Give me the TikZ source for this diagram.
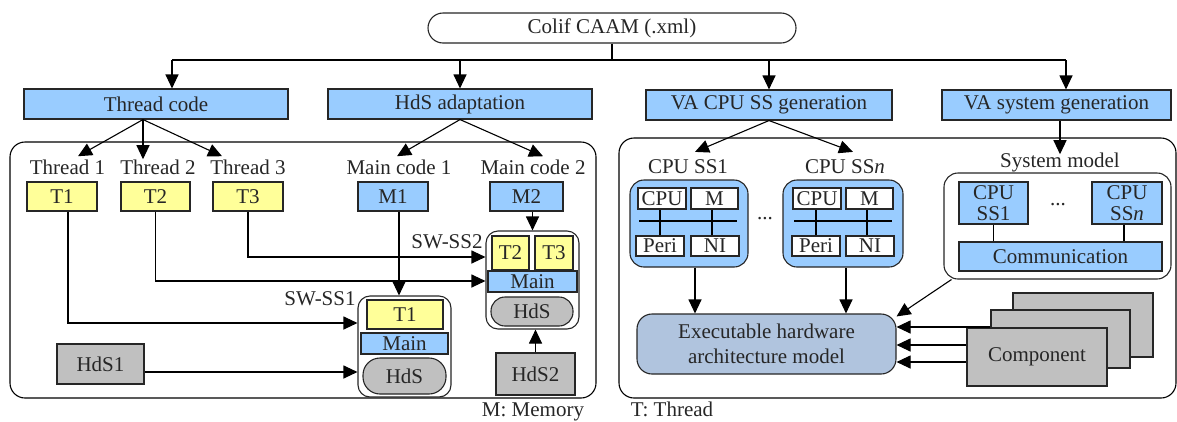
\documentclass[tikz,border=0pt]{standalone}
\usepackage{fontspec}
\setmainfont{Liberation Serif}
\usetikzlibrary{arrows.meta}
\definecolor{boxblue}{HTML}{99CCFF}
\definecolor{boxyellow}{HTML}{FFFF99}
\definecolor{boxgray}{HTML}{C0C0C0}
\definecolor{hwblue}{HTML}{B0C4DE}
\definecolor{ink}{HTML}{262626}

\begin{document}
\begin{tikzpicture}[x=1pt,y=-1pt,
  every node/.style={font=\fontsize{21}{23}\selectfont, text=ink},
  lbl/.style={inner sep=0pt, anchor=base},
  sz/.style 2 args={minimum width=#1pt, minimum height=#2pt},
  blk/.style={draw=ink, line width=1.1pt, inner sep=0pt},
  bluebox/.style={blk, fill=boxblue},
  yelbox/.style={blk, fill=boxyellow},
  graybox/.style={blk, fill=boxgray},
  whitebox/.style={blk, fill=white},
  ln/.style={draw=black, line width=1.1pt},
  arr/.style={draw=black, line width=1.1pt, -{Triangle[length=14pt,width=13pt]}},
  panel/.style={draw=black, line width=1.1pt, rounded corners=15pt}
]
\useasboundingbox (0,0) rectangle (1177,421);

% ---------- top row ----------
\node[whitebox, sz={368}{30}, rounded corners=15pt] (colif) at (612,28) {Colif CAAM (.xml)};
\node[bluebox, sz={264}{30}] (tcode) at (156,104) {Thread code};
\node[bluebox, sz={264}{30}] (hdsad) at (460,104) {HdS adaptation};
\node[bluebox, sz={246}{30}] (vacpu) at (769,105) {VA CPU SS generation};
\node[bluebox, sz={229}{30}] (vasys) at (1056.5,105) {VA system generation};

\coordinate (busL) at (172,60);
\coordinate (busR) at (1066,60);
\draw[ln] (colif.south) -- (colif.south |- busL);
\draw[ln] (busL) -- (busR);
\draw[arr] (busL) -- (busL |- tcode.north);
\draw[arr] (hdsad.north |- busL) -- (hdsad.north);
\draw[arr] (vacpu.north |- busL) -- (vacpu.north);
\draw[arr] (busR) -- (busR |- vasys.north);

% ---------- panels ----------
\draw[panel] (10,142) rectangle (596,398);
\draw[panel] (619,138) rectangle (1176,398);

% ---------- software side ----------
\node[lbl] (lt1) at (67.5,174) {Thread 1};
\node[lbl] (lt2) at (158,174) {Thread 2};
\node[lbl] (lt3) at (248,174) {Thread 3};
\node[lbl] (lm1) at (399,174) {Main code 1};
\node[lbl] (lm2) at (533,174) {Main code 2};

\draw[arr] ([xshift=-13pt]tcode.south) -- ([xshift=10.5pt,yshift=3pt]lt1.north);
\draw[arr] ([xshift=-13pt]tcode.south) -- ([xshift=-15pt]lt2.north);
\draw[arr] ([xshift=-13pt]tcode.south) -- ([xshift=-26pt,yshift=3pt]lt3.north);
\draw[arr] (hdsad.south) -- ([xshift=-2pt,yshift=3pt]lm1.north);
\draw[arr] (hdsad.south) -- ([xshift=10pt,yshift=3pt]lm2.north);

\node[yelbox, sz={70}{29}] (t1) at (62,196.5) {T1};
\node[yelbox, sz={69}{29}] (t2) at (155.5,196.5) {T2};
\node[yelbox, sz={70}{29}] (t3) at (248,196.5) {T3};
\node[bluebox, sz={70}{29}] (m1) at (393,196.5) {M1};
\node[bluebox, sz={73}{29}] (m2) at (526.5,196.5) {M2};

% SW-SS1
\node[whitebox, sz={93}{101}, rounded corners=12pt] (sw1) at (404.5,346.5) {};
\node[yelbox, sz={76}{29}] (sw1t) at (405,314.5) {T1};
\node[bluebox, sz={87}{21}] (sw1m) at (404.5,343.5) {Main};
\node[graybox, sz={83}{36}, rounded corners=17pt] (sw1h) at (404.5,376) {HdS};
\node[lbl] (lsw1) at (320,305) {SW-SS1};

% SW-SS2
\node[whitebox, sz={93}{98}, rounded corners=12pt] (sw2) at (532.5,280) {};
\node[yelbox, sz={37}{34}] (sw2a) at (510.5,253) {T2};
\node[yelbox, sz={38}{34}] (sw2b) at (554,253) {T3};
\node[bluebox, sz={89}{21}] (sw2m) at (532.5,281.5) {Main};
\node[graybox, sz={82}{29}, rounded corners=14pt] (sw2h) at (532,311.5) {HdS};
\node[lbl] (lsw2) at (447,248) {SW-SS2};

\node[graybox, sz={79}{42}] (hds2) at (535.5,374) {HdS2};
\node[graybox, sz={87}{40}] (hds1) at (100.5,364) {HdS1};

\draw[arr] ([xshift=6pt]t1.south) |- ([yshift=23.5pt]sw1.west);
\draw[arr] (t2.south) |- ([yshift=-1pt]sw2.west);
\draw[arr] (t3.south) |- ([yshift=23pt]sw2.west);
\draw[arr] ([xshift=6pt]m1.south) -- ([xshift=6pt]m1.south |- sw1.north);
\draw[arr] (m2.south -| sw2.north) -- (sw2.north);
\draw[arr] (hds2.north) -- (hds2.north |- sw2.south);
\draw[arr] ([yshift=-8pt]hds1.east) -- ([yshift=-8pt]hds1.east -| sw1.west);

% ---------- hardware side ----------
\node[lbl] (lc1) at (688,173) {CPU SS1};
\node[lbl] (lcn) at (845,173) {CPU SS\textit{n}};
\draw[arr] (vacpu.south) -- ([xshift=7pt,yshift=7pt]lc1.north);
\draw[arr] (vacpu.south) -- ([xshift=8pt,yshift=7pt]lcn.north);

% CPU subsystem 1
\node[bluebox, sz={118}{87}, rounded corners=14pt] (cpu1) at (689,223.5) {};
\node[whitebox, sz={48}{21}] (cpu1c) at (662,198.5) {CPU};
\node[whitebox, sz={47}{21}] (cpu1m) at (714.5,198.5) {M};
\node[whitebox, sz={48}{20}] (cpu1p) at (660,246) {Peri};
\node[whitebox, sz={48}{20}] (cpu1n) at (715,246) {NI};
\draw[ln] ([xshift=10pt,yshift=2.5pt]cpu1.west) -- ([xshift=-12pt,yshift=2.5pt]cpu1.east);
\draw[ln] (cpu1p.north) -- (cpu1p.north |- cpu1c.south);
\draw[ln] ([xshift=-2.5pt]cpu1m.south) -- ([xshift=-2.5pt]cpu1m.south |- cpu1n.north);

% CPU subsystem n
\node[bluebox, sz={120}{87}, rounded corners=14pt] (cpun) at (843,223.5) {};
\node[whitebox, sz={48}{21}] (cpunc) at (817,198.5) {CPU};
\node[whitebox, sz={47}{21}] (cpunm) at (869.5,198.5) {M};
\node[whitebox, sz={48}{20}] (cpunp) at (816,246) {Peri};
\node[whitebox, sz={48}{20}] (cpunn) at (870,246) {NI};
\draw[ln] ([xshift=12pt,yshift=2.5pt]cpun.west) -- ([xshift=-12pt,yshift=2.5pt]cpun.east);
\draw[ln] (cpunp.north) -- (cpunp.north |- cpunc.south);
\draw[ln] ([xshift=-2.5pt]cpunm.south) -- ([xshift=-2.5pt]cpunm.south |- cpunn.north);

\node[lbl] (hdots) at (765,219) {...};

% executable model
\node[blk, fill=hwblue, sz={259}{60}, rounded corners=15pt, align=center,
      font=\fontsize{21}{25}\selectfont] (exec) at (766.5,344) {Executable hardware\\architecture model};
\draw[arr] ([xshift=6pt]cpu1.south) -- ([xshift=6pt]cpu1.south |- exec.north);
\draw[arr] ([xshift=3pt]cpun.south) -- ([xshift=3pt]cpun.south |- exec.north);

% system model
\node[lbl] (lsys) at (1060,167) {System model};
\draw[arr] (vasys.south -| lsys.north) -- ([yshift=-2pt]lsys.north);
\node[whitebox, sz={227}{106}, rounded corners=14pt] (sys) at (1057.5,226) {};
\node[bluebox, sz={69}{42}, align=center, font=\fontsize{21}{21}\selectfont] (scpu1) at (993.5,203) {CPU\\SS1};
\node[bluebox, sz={70}{42}, align=center, font=\fontsize{21}{21}\selectfont] (scpun) at (1127,203) {CPU\\SS\textit{n}};
\node[lbl] (sdots) at (1058,205) {...};
\node[bluebox, sz={203}{29}] (comm) at (1060.5,256.5) {Communication};
\draw[ln] (scpu1.south) -- (scpu1.south |- comm.north);
\draw[ln] ([xshift=-3pt]scpun.south) -- ([xshift=-3pt]scpun.south |- comm.north);
\draw[arr] ([xshift=8pt]sys.south west) -- ([yshift=-3pt]exec.north east);

% components
\node[graybox, sz={140}{64}] (compc) at (1083,325) {};
\node[graybox, sz={139}{58}] (compb) at (1060.5,339) {};
\node[graybox, sz={140}{58}] (compa) at (1037,357) {Component};
\draw[arr] ([yshift=17pt]exec.east -| compb.west) -- ([yshift=17pt]exec.east);
\draw[arr] ([yshift=-1pt]exec.east -| compa.west) -- ([yshift=-1pt]exec.east);
\draw[arr] ([yshift=-18pt]exec.east -| compa.west) -- ([yshift=-18pt]exec.east);

% legend
\node[lbl] (legm) at (533,416) {M: Memory};
\node[lbl] (legt) at (672,416) {T: Thread};
\end{tikzpicture}
\end{document}
